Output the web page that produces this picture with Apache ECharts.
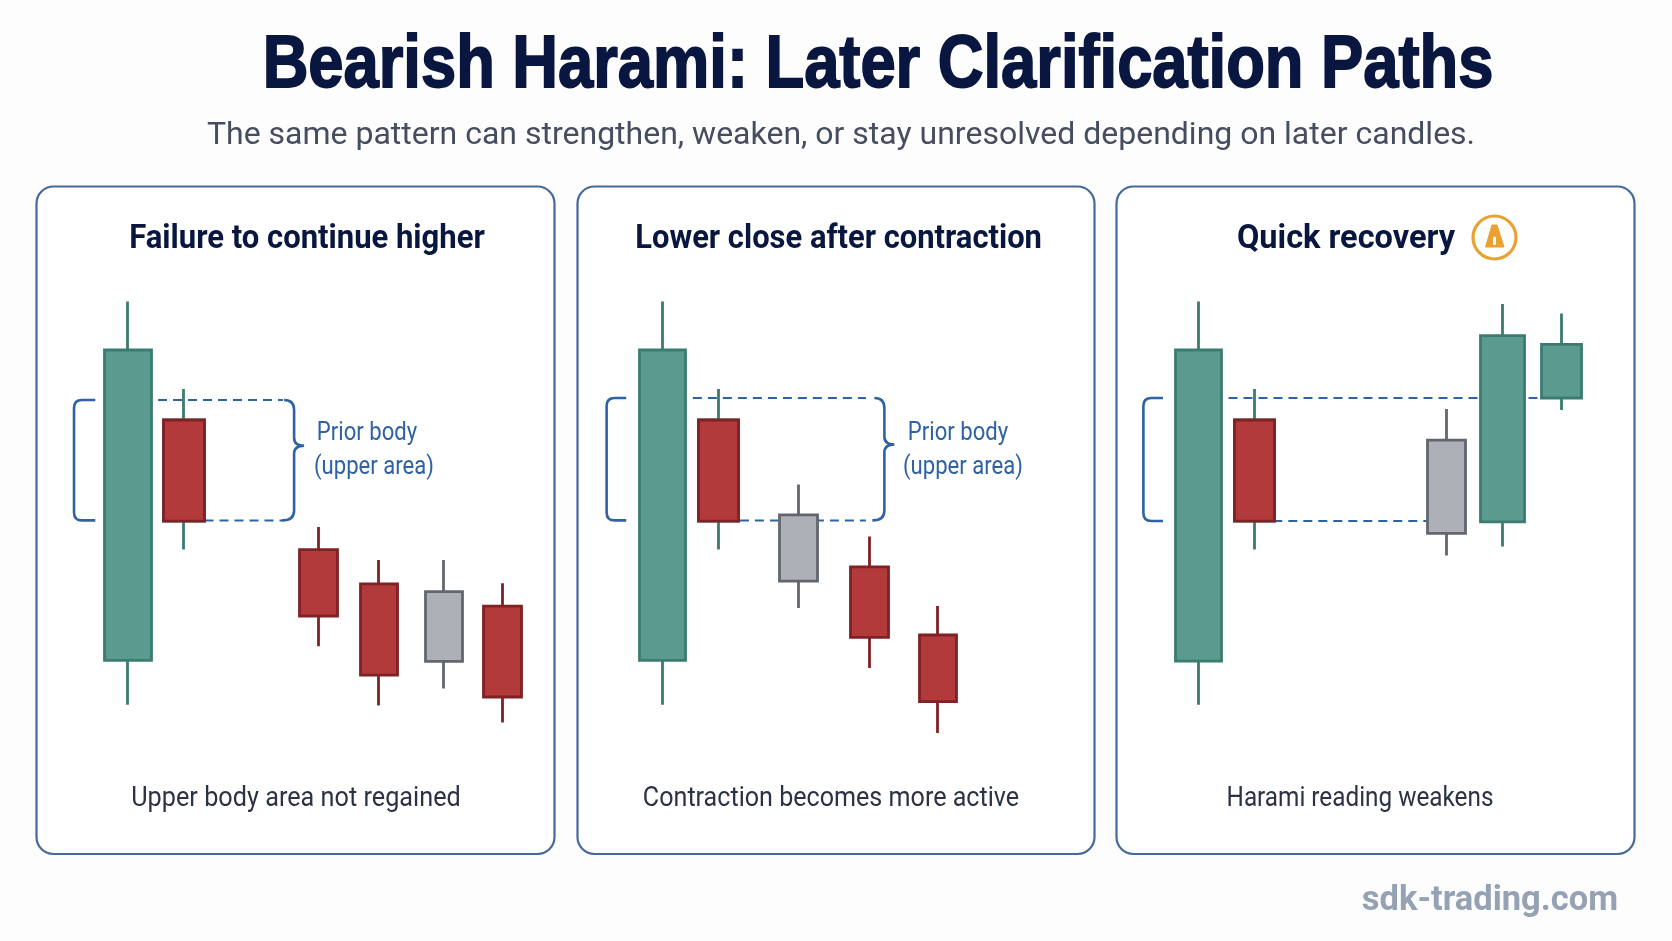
<!DOCTYPE html>
<html>
<head>
<meta charset="utf-8">
<title>Bearish Harami: Later Clarification Paths</title>
<style>html,body{margin:0;padding:0;background:#fdfdfe}#chart{width:1672px;height:941px}</style>
<script src="https://cdn.jsdelivr.net/npm/echarts@6/dist/echarts.min.js"></script>
</head>
<body>
<div id="chart"></div>
<script>
// Candles are [session, open, close, low, high].
const motherCandle1 = [1.63, 39.8, 195, 17.6, 219.3];
const motherCandle2 = [1.52, 39.8, 195, 17.6, 219.3];
const motherCandle3 = [1.46, 39.4, 195, 17.6, 219.3];
const haramiCandle1 = [2.63, 160, 109.4, 95.3, 175.5];
const haramiCandle2 = [2.52, 160, 109.4, 95.3, 175.5];
const haramiCandle3 = [2.46, 160, 109.4, 95.3, 175.5];

const laterRed1 = [
  [5.04, 95.2, 62, 46.9, 106.5],
  [6.12, 78.1, 32.4, 17.2, 90],
  [8.32, 66.9, 21.5, 8.8, 78.4]
];
const laterGray1 = [[7.28, 74.2, 39.3, 25.7, 90]];

const laterGray2 = [[3.95, 112.6, 79.4, 66, 127.8]];
const laterRed2 = [
  [5.21, 86.6, 51.3, 36, 101.8],
  [6.44, 52.5, 19.2, 3.5, 67]
];

const laterGray3 = [[5.89, 149.9, 103.3, 92.2, 165.5]];
const recoveryTeal3 = [[6.89, 109.1, 202.2, 96.8, 218]];
const followTeal3 = [[7.95, 171, 197.8, 165, 213.2]];

// Upper and lower edge of the prior body marked on each panel.
const priorBodyTop = [170, 171, 171];
const priorBodyBottom = [109.8, 109.8, 109.5];

const panelTitles = ['Failure to continue higher', 'Lower close after contraction', 'Quick recovery'];
const panelNotes = ['Upper body area not regained', 'Contraction becomes more active', 'Harami reading weakens'];
const mainTitle = 'Bearish Harami: Later Clarification Paths';
const subTitle = 'The same pattern can strengthen, weaken, or stay unresolved depending on later candles.';
const braceLabel = ['Prior body', '(upper area)'];
const siteMark = 'sdk-trading.com';

const NAVY = '#081640', SLATE = '#454d5e', BLUE = '#2f62a3', FRAME = '#46699c', AMBER = '#e9a132';
const TEAL = {fill: '#5a9a8f', edge: '#3b7c70'};
const RED = {fill: '#b23a3b', edge: '#7f2226'};
const GRAY = {fill: '#adb0b7', edge: '#62676f'};

const panelLeft = [36.5, 577.5, 1116.5];
const panelWidth = [518, 517, 518];
const PANEL_TOP = 186.5, PANEL_H = 667.5;
const PLOT_TOP = 290, PLOT_H = 450, Y_MAX = 225, X_MAX = 9.25, PLOT_W = 518;

const grids = panelLeft.map(l => ({left: l, top: PLOT_TOP, width: PLOT_W, height: PLOT_H}));
const xAxes = panelLeft.map((_, i) => ({type: 'value', gridIndex: i, min: 0, max: X_MAX, show: false}));
const yAxes = panelLeft.map((_, i) => ({type: 'value', gridIndex: i, min: 0, max: Y_MAX, show: false}));

function candles(name, panel, rows, tone, width) {
  return {
    name, type: 'candlestick', xAxisIndex: panel, yAxisIndex: panel, barWidth: width, z: 3,
    itemStyle: {color: tone.fill, color0: tone.fill, borderColor: tone.edge, borderColor0: tone.edge, borderWidth: 2.8},
    data: rows
  };
}

// The inside candle has a red body on a teal wick, so the two are layered.
function haramiLayers(panel, row, width) {
  const [session, open, close] = row;
  return [
    candles('Harami wick', panel, [row], TEAL, width),
    candles('Harami body', panel, [[session, open, close, close, open]], RED, width)
  ];
}

// Dashed guides, given as [from, to] session pairs on a price level.
function guides(panel, level, spans) {
  const pts = [];
  spans.forEach(s => { pts.push([s[0], level], [s[1], level], [null, null]); });
  return {
    type: 'line', xAxisIndex: panel, yAxisIndex: panel, data: pts, showSymbol: false, z: 2, silent: true,
    connectNulls: false,
    lineStyle: {color: BLUE, width: 2, type: [9, 6]}
  };
}

// Square bracket on the left of the mother candle and optional curly brace on the right.
function bracketSeries(panel, xLeft, xArm, xBrace) {
  return {
    type: 'custom', xAxisIndex: panel, yAxisIndex: panel, z: 2, silent: true,
    data: [[xLeft, priorBodyTop[panel], priorBodyBottom[panel]]],
    renderItem(params, api) {
      const top = api.coord([api.value(0), api.value(1)]);
      const bot = api.coord([api.value(0), api.value(2)]);
      const armEnd = api.coord([xArm, 0])[0];
      const x = top[0], r = 8;
      const children = [{
        type: 'path',
        shape: {pathData: `M${armEnd} ${top[1]}L${x + r} ${top[1]}Q${x} ${top[1]} ${x} ${top[1] + r}L${x} ${bot[1] - r}Q${x} ${bot[1]} ${x + r} ${bot[1]}L${armEnd} ${bot[1]}`},
        style: {fill: null, stroke: BLUE, lineWidth: 2.6}
      }];
      if (xBrace != null) {
        const bx = api.coord([xBrace, 0])[0];
        const tipY = top[1] + (bot[1] - top[1]) * 0.38;
        children.push({
          type: 'path',
          shape: {pathData: `M${bx - 10} ${top[1]}Q${bx} ${top[1]} ${bx} ${top[1] + 10}L${bx} ${tipY - 8}Q${bx} ${tipY} ${bx + 10} ${tipY}Q${bx} ${tipY} ${bx} ${tipY + 8}L${bx} ${bot[1] - 10}Q${bx} ${bot[1]} ${bx - 12} ${bot[1]}`},
          style: {fill: null, stroke: BLUE, lineWidth: 2.6}
        });
      }
      return {type: 'group', children};
    }
  };
}

const series = [
  guides(0, priorBodyTop[0], [[2.17, 4.4]]),
  guides(0, priorBodyBottom[0], [[3.0, 4.4]]),
  bracketSeries(0, 0.67, 1.05, 4.6),
  candles('Mother candle', 0, [motherCandle1], TEAL, 47),
  ...haramiLayers(0, haramiCandle1, 41),
  candles('Later red', 0, laterRed1, RED, 38),
  candles('Later neutral', 0, laterGray1, GRAY, 38),

  guides(1, priorBodyTop[1], [[2.06, 5.15]]),
  guides(1, priorBodyBottom[1], [[2.9, 5.15]]),
  bracketSeries(1, 0.52, 0.87, 5.48),
  candles('Mother candle', 1, [motherCandle2], TEAL, 47),
  ...haramiLayers(1, haramiCandle2, 41),
  candles('Later red', 1, laterRed2, RED, 38),
  candles('Later neutral', 1, laterGray2, GRAY, 38),

  guides(2, priorBodyTop[2], [[2.0, 7.6]]),
  guides(2, priorBodyBottom[2], [[2.8, 5.6]]),
  bracketSeries(2, 0.48, 0.83, null),
  candles('Mother candle', 2, [motherCandle3], TEAL, 47),
  ...haramiLayers(2, haramiCandle3, 41),
  candles('Later neutral', 2, laterGray3, GRAY, 38),
  candles('Recovery candle', 2, recoveryTeal3, TEAL, 44),
  candles('Follow-through candle', 2, followTeal3, TEAL, 41)
];

function textEl(text, cx, cy, font, weight, size, fill, scaleX, thicken) {
  return {
    type: 'text', x: cx, y: cy, scaleX: scaleX || 1, z: 10,
    style: {
      text, fill, font: `${weight} ${size}px ${font}`, textAlign: 'center', textVerticalAlign: 'middle',
      stroke: thicken ? fill : null, lineWidth: thicken || 0
    }
  };
}

const frames = panelLeft.map((l, i) => ({
  type: 'rect', z: 0,
  shape: {x: l, y: PANEL_TOP, width: panelWidth[i], height: PANEL_H, r: 17},
  style: {fill: '#ffffff', stroke: FRAME, lineWidth: 2.2}
}));

const titleCx = [307, 838.6, 1346], noteCx = [296, 831, 1360];
const titleScale = [0.94, 0.937, 0.985], noteScale = [0.935, 0.93, 0.9];

// Warning badge beside the third panel's heading.
const warningBadge = [
  {type: 'circle', z: 10, shape: {cx: 1494.5, cy: 237.5, r: 21.5}, style: {fill: '#fff', stroke: AMBER, lineWidth: 3.2}},
  {type: 'polygon', z: 11, shape: {points: [[1492, 225], [1497, 225], [1504, 247], [1485.5, 247]]}, style: {fill: AMBER, stroke: AMBER, lineWidth: 1, lineJoin: 'round'}},
  {type: 'rect', z: 12, shape: {x: 1493, y: 236.5, width: 3, height: 8.5, r: 1.5}, style: {fill: '#fff'}}
];

const graphics = [
  ...frames,
  textEl(mainTitle, 878, 67, '"Liberation Sans"', 'bold', 74, NAVY, 0.855, 1.8),
  textEl(subTitle, 841, 136, 'Roboto', 'normal', 32, SLATE),
  ...panelTitles.map((t, i) => textEl(t, titleCx[i], 240, 'Roboto', 'bold', 33, NAVY, titleScale[i])),
  ...panelNotes.map((t, i) => textEl(t, noteCx[i], 799, 'Roboto', 'normal', 27, '#2b3244', noteScale[i])),
  textEl(braceLabel[0], 367, 433, 'Roboto', 'normal', 26, BLUE, 0.85),
  textEl(braceLabel[1], 374, 467, 'Roboto', 'normal', 26, BLUE, 0.85),
  textEl(braceLabel[0], 958, 433, 'Roboto', 'normal', 26, BLUE, 0.85),
  textEl(braceLabel[1], 963, 467, 'Roboto', 'normal', 26, BLUE, 0.85),
  ...warningBadge,
  textEl(siteMark, 1490, 901, 'Roboto', 'bold', 34.5, '#95a2b3')
];

const chart = echarts.init(document.getElementById('chart'), null, {renderer: 'canvas'});
chart.setOption({
  animation: false,
  backgroundColor: '#fdfdfe',
  tooltip: {show: false},
  grid: grids, xAxis: xAxes, yAxis: yAxes,
  series,
  graphic: {elements: graphics}
});
</script>
</body>
</html>
